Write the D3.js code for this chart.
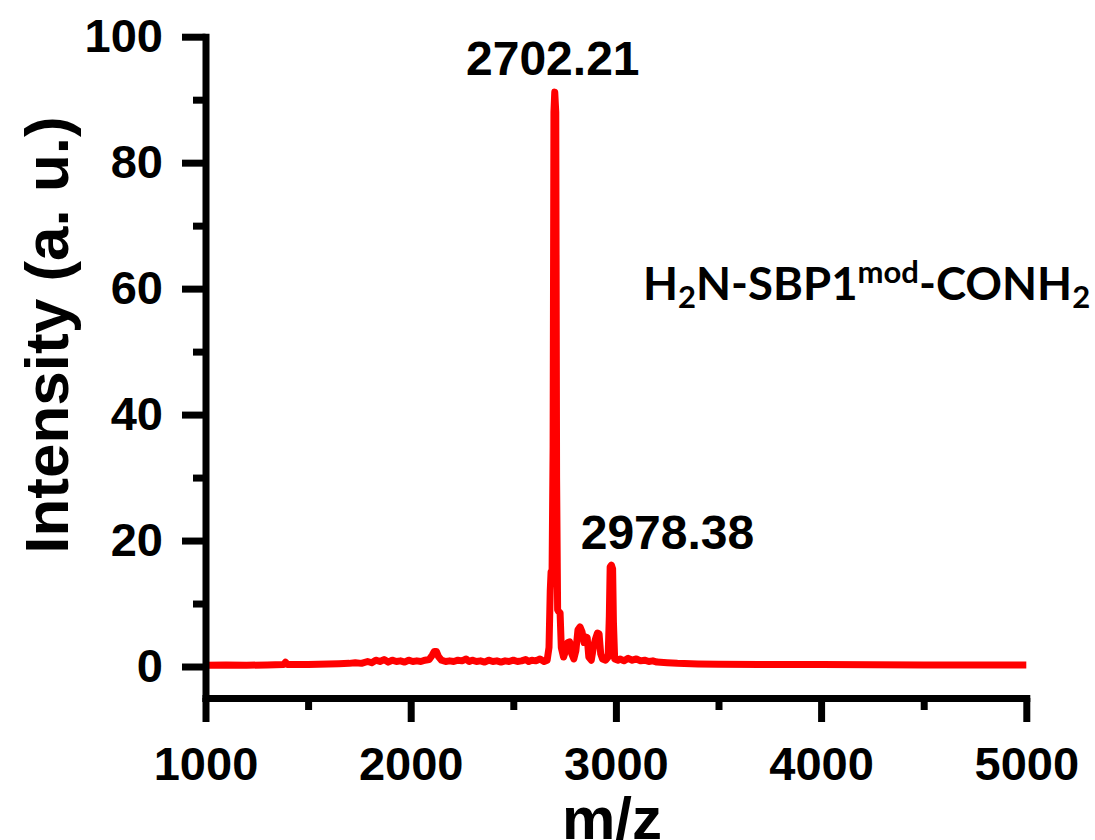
<!DOCTYPE html>
<html><head><meta charset="utf-8">
<script src="https://cdn.jsdelivr.net/npm/d3@7"></script>
<style>body{margin:0;background:#fff}svg{display:block}</style>
</head><body>
<svg id="c" width="1095" height="840"></svg>
<script>
const mz = [1000,1100,1200,1300,1380,1390,1400,1500,1550,1600,1650,1700,1730,1760,1790,1810,1830,1850,1870,1890,1910,1930,1950,1970,1990,2010,2030,2050,2070,2090,2105,2115,2125,2135,2150,2170,2190,2210,2230,2250,2270,2285,2300,2320,2340,2360,2380,2400,2420,2440,2460,2480,2500,2520,2540,2560,2575,2590,2610,2630,2650,2665,2674,2680,2684,2689,2694,2698,2702,2707,2711,2716,2722,2728,2734,2745,2755,2765,2775,2785,2795,2805,2815,2825,2835,2845,2852,2860,2868,2880,2890,2900,2910,2918,2926,2935,2950,2962,2968,2972,2978,2984,2988,2994,3010,3020,3040,3060,3080,3100,3120,3140,3160,3180,3200,3250,3300,3400,3500,3700,4000,4500,5000];
const intensity = [0.2,0.25,0.2,0.25,0.3,0.7,0.3,0.3,0.35,0.4,0.45,0.5,0.6,0.5,0.8,0.6,1.0,0.8,1.1,0.7,1.0,0.8,0.9,0.7,1.0,0.8,0.9,0.8,1.0,1.1,1.8,2.4,2.4,1.6,1.0,0.8,0.9,0.8,1.0,0.9,1.2,0.8,1.0,0.8,0.9,0.7,1.0,0.8,0.9,0.7,0.9,0.8,1.0,0.8,0.9,1.1,0.8,1.0,0.9,1.2,0.8,1.0,3.0,12.0,15.0,15.3,35.0,88.0,91.2,88.0,30.0,9.0,8.7,8.5,3.0,1.5,2.5,3.8,3.9,2.0,1.2,2.5,5.8,6.3,5.5,3.8,4.7,4.6,1.5,1.0,3.0,4.3,5.3,5.2,2.0,1.2,1.0,1.5,8.0,15.8,16.1,15.5,7.0,1.2,1.0,1.2,0.9,1.3,1.0,1.2,0.9,1.0,0.8,0.9,0.7,0.6,0.5,0.4,0.35,0.3,0.3,0.25,0.25,0.25];
const xMajor = [1000,2000,3000,4000,5000];
const xMinor = [1500,2500,3500,4500];
const yMajor = [0,20,40,60,80,100];
const yMinor = [10,30,50,70,90];
const peakLabels = ["2702.21","2978.38"];
const peakMz = [2702.21,2978.38];
const peakTop = [91.2,16.1];

const svg = d3.select("#c");
const x = d3.scaleLinear().domain([1000,5000]).range([205.5,1026.3]);
const y = d3.scaleLinear().domain([-5,100]).range([698,36.7]);
const data = mz.map((m,i)=>[m,intensity[i]]);

svg.append("path").datum(data)
  .attr("d", d3.line().x(d=>x(d[0])).y(d=>y(d[1])))
  .attr("fill","none").attr("stroke","#ff0000").attr("stroke-width",7)
  .attr("stroke-linejoin","round");

const AX = "'Liberation Sans', Arial, sans-serif";
function style(g){
  g.selectAll("path,line").attr("stroke","#000").attr("stroke-width",7).attr("stroke-linecap","square");
  g.selectAll("text").attr("fill","#000").attr("font-family",AX).attr("font-weight","bold").attr("font-size",47);
}
const gx = svg.append("g").attr("transform","translate(0,698)")
  .call(d3.axisBottom(x).tickValues(xMajor).tickSize(21).tickSizeOuter(0).tickPadding(28).tickFormat(d3.format("d")));
style(gx);
gx.selectAll(".tick line").attr("stroke-linecap","butt").attr("y2",24);
const gxm = svg.append("g").attr("transform","translate(0,698)")
  .call(d3.axisBottom(x).tickValues(xMinor).tickSize(12).tickSizeOuter(0).tickFormat(""));
style(gxm); gxm.select(".domain").remove();
gxm.selectAll(".tick line").attr("stroke-linecap","butt");

const gy = svg.append("g").attr("transform","translate(205.5,0)")
  .call(d3.axisLeft(y).tickValues(yMajor).tickSize(23.5).tickSizeOuter(0).tickPadding(19));
style(gy);
gy.selectAll(".tick line").attr("stroke-linecap","butt");
const gym = svg.append("g").attr("transform","translate(205.5,0)")
  .call(d3.axisLeft(y).tickValues(yMinor).tickSize(12.5).tickSizeOuter(0).tickFormat(""));
style(gym); gym.select(".domain").remove();
gym.selectAll(".tick line").attr("stroke-linecap","butt");

svg.append("text").attr("transform","translate(68,335) rotate(-90)")
  .attr("text-anchor","middle").attr("font-family",AX).attr("font-weight","bold")
  .attr("font-size",62).text("Intensity (a. u.)");
svg.append("text").attr("x",612).attr("y",839)
  .attr("text-anchor","middle").attr("font-family",AX).attr("font-weight","bold")
  .attr("font-size",60).text("m/z");

svg.selectAll(".plab").data(peakLabels).enter().append("text")
  .attr("class","plab")
  .attr("x",(d,i)=>x(peakMz[i]) + (i===0? -2 : 56))
  .attr("y",(d,i)=>y(peakTop[i]) - (i===0? 17 : 16))
  .attr("text-anchor","middle").attr("font-family",AX).attr("font-weight","bold")
  .attr("font-size",48).text(d=>d);

const t = svg.append("text").attr("x",643).attr("y",300)
  .attr("font-family","Lato, 'Open Sans', sans-serif").attr("font-weight","bold").attr("font-size",45.5);
t.append("tspan").text("H");
t.append("tspan").attr("font-size",31).attr("dy",8).text("2");
t.append("tspan").attr("dy",-8).text("N-SBP1");
t.append("tspan").attr("font-size",31).attr("dy",-17).text("mod");
t.append("tspan").attr("dy",17).text("-CONH");
t.append("tspan").attr("font-size",31).attr("dy",8).text("2");
</script>
</body></html>
